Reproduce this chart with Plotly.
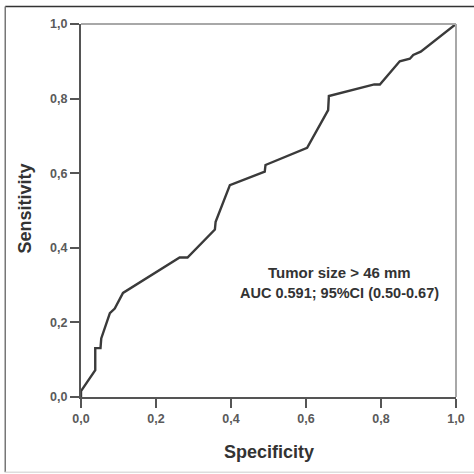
import plotly.graph_objects as go

# ROC curve points (1 - specificity on x, sensitivity on y)
spec = [0.0, 0.0, 0.038, 0.038, 0.052, 0.054, 0.077, 0.090, 0.112, 0.263, 0.284,
        0.357, 0.359, 0.395, 0.397, 0.490, 0.492, 0.603, 0.659, 0.661, 0.782,
        0.797, 0.850, 0.877, 0.886, 0.906, 1.0]
sens = [0.0, 0.016, 0.072, 0.131, 0.131, 0.157, 0.225, 0.237, 0.279, 0.374, 0.374,
        0.449, 0.470, 0.558, 0.568, 0.604, 0.622, 0.668, 0.769, 0.807, 0.838,
        0.838, 0.900, 0.907, 0.917, 0.926, 1.0]

tick_vals = [0.0, 0.2, 0.4, 0.6, 0.8, 1.0]
tick_text = ["0,0", "0,2", "0,4", "0,6", "0,8", "1,0"]

annot_lines = ["Tumor size > 46 mm", "AUC 0.591; 95%CI (0.50-0.67)"]
x_title = "Specificity"
y_title = "Sensitivity"

FONT = "Arial, Liberation Sans, sans-serif"

fig = go.Figure()
fig.add_trace(go.Scatter(x=spec, y=sens, mode="lines",
                         line=dict(color="#3a3a3a", width=2.4),
                         hoverinfo="skip", showlegend=False))

font_tick = dict(family=FONT, size=12.5, color="#5a5a5a")

axis_common = dict(range=[0, 1], tickvals=tick_vals,
                   ticktext=["<b>" + t + "</b>" for t in tick_text],
                   ticks="outside", ticklen=9, tickwidth=2, tickcolor="#555555",
                   showgrid=False, zeroline=False, showline=True, linewidth=2,
                   linecolor="#555555", tickfont=font_tick, mirror=False,
                   automargin=False, fixedrange=True)

fig.update_xaxes(**axis_common)
fig.update_yaxes(**axis_common)

# light top/right plot border
fig.add_shape(type="line", xref="paper", yref="paper", x0=0, x1=1, y0=1, y1=1,
              line=dict(color="#a8a8a8", width=2))
fig.add_shape(type="line", xref="paper", yref="paper", x0=1, x1=1, y0=0, y1=1,
              line=dict(color="#a8a8a8", width=2))

# outer figure frame (top dark, left gray, bottom light)
fig.add_shape(type="line", xref="paper", yref="paper", x0=-0.202, x1=1.1, y0=1.047, y1=1.047,
              line=dict(color="#333333", width=1.5))
fig.add_shape(type="line", xref="paper", yref="paper", x0=-0.202, x1=-0.202, y0=-0.202, y1=1.047,
              line=dict(color="#777777", width=1.5))
fig.add_shape(type="line", xref="paper", yref="paper", x0=-0.202, x1=1.1, y0=-0.202, y1=-0.202,
              line=dict(color="#dddddd", width=1.5))

# axis titles
fig.add_annotation(x=0.501, y=-0.148, xref="paper", yref="paper", text="<b>" + x_title + "</b>",
                   showarrow=False, xanchor="center", yanchor="middle",
                   font=dict(family=FONT, size=18, color="#333333"))
fig.add_annotation(x=-0.148, y=0.504, xref="paper", yref="paper", text="<b>" + y_title + "</b>",
                   showarrow=False, xanchor="center", yanchor="middle", textangle=-90,
                   font=dict(family=FONT, size=18, color="#333333"))

fig.add_annotation(x=0.688, y=0.335, xref="x", yref="y",
                   text="<b>" + annot_lines[0] + "</b>", showarrow=False,
                   font=dict(family=FONT, size=15, color="#333333"))
fig.add_annotation(x=0.688, y=0.278, xref="x", yref="y",
                   text="<b>" + annot_lines[1] + "</b>", showarrow=False,
                   font=dict(family=FONT, size=14.5, color="#333333"))

fig.update_layout(width=474, height=474, plot_bgcolor="white", paper_bgcolor="white",
                  margin=dict(l=81, r=18, t=24, b=77))

fig.write_html("out.html", config={"displayModeBar": False},
               post_script="document.body.style.margin='0';document.body.style.overflow='hidden';")
